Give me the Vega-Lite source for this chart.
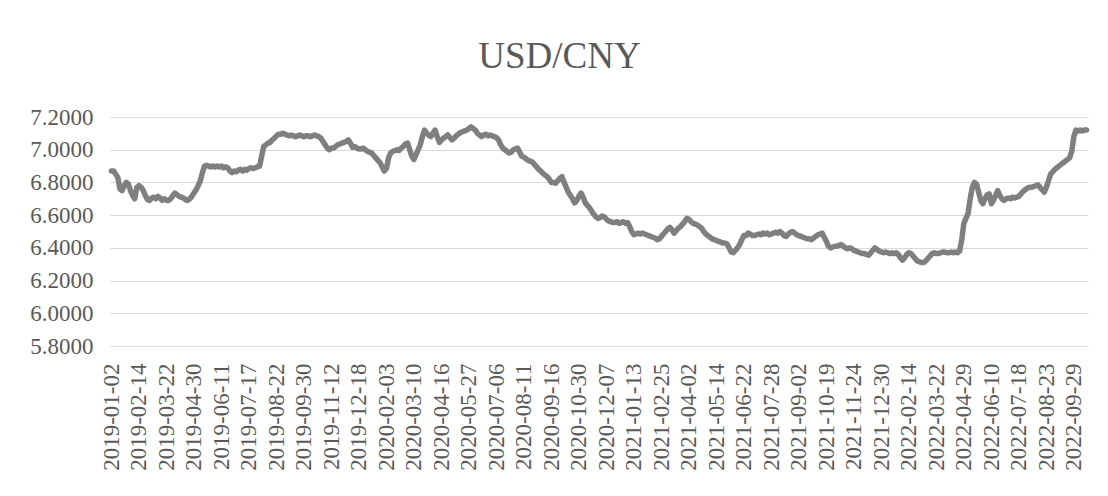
{
"$schema": "https://vega.github.io/schema/vega-lite/v6.json",
"autosize": "none",
"width": 978,
"height": 229,
"padding": {"left": 110, "top": 117, "right": 20, "bottom": 150},
"background": "white",
"title": {"text": "USD/CNY", "font": "Liberation Serif", "fontSize": 37, "fontWeight": "normal", "color": "#595959", "anchor": "middle", "frame": "bounds", "baseline": "alphabetic", "offset": 1},
"config": {"view": {"stroke": null}},
"datasets": {"fx": [
{"d":"2019-01-02","v":6.87},{"d":"2019-01-04","v":6.87},{"d":"2019-01-08","v":6.85},{"d":"2019-01-10","v":6.83},{"d":"2019-01-14","v":6.76},{"d":"2019-01-16","v":6.75},{"d":"2019-01-18","v":6.78},{"d":"2019-01-22","v":6.80},{"d":"2019-01-24","v":6.79},{"d":"2019-01-28","v":6.75},{"d":"2019-01-30","v":6.72},{"d":"2019-02-01","v":6.70},{"d":"2019-02-12","v":6.77},
{"d":"2019-02-14","v":6.78},{"d":"2019-02-18","v":6.77},{"d":"2019-02-20","v":6.75},{"d":"2019-02-22","v":6.72},{"d":"2019-02-26","v":6.695},{"d":"2019-02-28","v":6.69},{"d":"2019-03-04","v":6.705},{"d":"2019-03-06","v":6.71},{"d":"2019-03-08","v":6.70},{"d":"2019-03-12","v":6.715},{"d":"2019-03-14","v":6.705},{"d":"2019-03-18","v":6.69},{"d":"2019-03-20","v":6.70},
{"d":"2019-03-22","v":6.69},{"d":"2019-03-26","v":6.69},{"d":"2019-03-28","v":6.70},{"d":"2019-04-01","v":6.72},{"d":"2019-04-03","v":6.735},{"d":"2019-04-08","v":6.725},{"d":"2019-04-10","v":6.715},{"d":"2019-04-12","v":6.71},{"d":"2019-04-16","v":6.705},{"d":"2019-04-18","v":6.695},{"d":"2019-04-22","v":6.69},{"d":"2019-04-24","v":6.70},{"d":"2019-04-26","v":6.715},
{"d":"2019-04-30","v":6.735},{"d":"2019-05-06","v":6.755},{"d":"2019-05-08","v":6.78},{"d":"2019-05-10","v":6.81},{"d":"2019-05-14","v":6.86},{"d":"2019-05-16","v":6.90},{"d":"2019-05-20","v":6.905},{"d":"2019-05-22","v":6.90},{"d":"2019-05-24","v":6.895},{"d":"2019-05-28","v":6.90},{"d":"2019-05-30","v":6.895},{"d":"2019-06-03","v":6.90},{"d":"2019-06-05","v":6.895},
{"d":"2019-06-11","v":6.90},{"d":"2019-06-13","v":6.89},{"d":"2019-06-17","v":6.895},{"d":"2019-06-19","v":6.89},{"d":"2019-06-21","v":6.87},{"d":"2019-06-25","v":6.86},{"d":"2019-06-27","v":6.87},{"d":"2019-07-01","v":6.865},{"d":"2019-07-03","v":6.875},{"d":"2019-07-05","v":6.88},{"d":"2019-07-09","v":6.87},{"d":"2019-07-11","v":6.88},{"d":"2019-07-15","v":6.875},
{"d":"2019-07-17","v":6.885},{"d":"2019-07-19","v":6.89},{"d":"2019-07-23","v":6.885},{"d":"2019-07-25","v":6.89},{"d":"2019-07-29","v":6.895},{"d":"2019-07-31","v":6.90},{"d":"2019-08-02","v":6.96},{"d":"2019-08-06","v":7.02},{"d":"2019-08-08","v":7.03},{"d":"2019-08-12","v":7.04},{"d":"2019-08-14","v":7.045},{"d":"2019-08-16","v":7.06},{"d":"2019-08-20","v":7.07},
{"d":"2019-08-22","v":7.085},{"d":"2019-08-26","v":7.095},{"d":"2019-08-28","v":7.095},{"d":"2019-08-30","v":7.10},{"d":"2019-09-03","v":7.095},{"d":"2019-09-05","v":7.09},{"d":"2019-09-09","v":7.085},{"d":"2019-09-11","v":7.09},{"d":"2019-09-16","v":7.085},{"d":"2019-09-18","v":7.08},{"d":"2019-09-20","v":7.085},{"d":"2019-09-24","v":7.09},{"d":"2019-09-26","v":7.085},
{"d":"2019-09-30","v":7.08},{"d":"2019-10-09","v":7.085},{"d":"2019-10-11","v":7.085},{"d":"2019-10-15","v":7.08},{"d":"2019-10-17","v":7.085},{"d":"2019-10-21","v":7.09},{"d":"2019-10-23","v":7.085},{"d":"2019-10-25","v":7.08},{"d":"2019-10-29","v":7.07},{"d":"2019-10-31","v":7.05},{"d":"2019-11-04","v":7.03},{"d":"2019-11-06","v":7.01},{"d":"2019-11-08","v":7.00},
{"d":"2019-11-12","v":7.01},{"d":"2019-11-14","v":7.01},{"d":"2019-11-18","v":7.02},{"d":"2019-11-20","v":7.03},{"d":"2019-11-22","v":7.035},{"d":"2019-11-26","v":7.04},{"d":"2019-11-28","v":7.045},{"d":"2019-12-02","v":7.05},{"d":"2019-12-04","v":7.06},{"d":"2019-12-06","v":7.04},{"d":"2019-12-10","v":7.015},{"d":"2019-12-12","v":7.02},{"d":"2019-12-16","v":7.01},
{"d":"2019-12-18","v":7.005},{"d":"2019-12-20","v":7.005},{"d":"2019-12-24","v":7.01},{"d":"2019-12-26","v":7.00},{"d":"2019-12-30","v":6.99},{"d":"2020-01-02","v":6.985},{"d":"2020-01-06","v":6.98},{"d":"2020-01-08","v":6.965},{"d":"2020-01-10","v":6.95},{"d":"2020-01-14","v":6.935},{"d":"2020-01-16","v":6.92},{"d":"2020-01-20","v":6.895},{"d":"2020-01-22","v":6.87},
{"d":"2020-02-03","v":6.885},{"d":"2020-02-05","v":6.95},{"d":"2020-02-07","v":6.98},{"d":"2020-02-11","v":6.99},{"d":"2020-02-13","v":6.995},{"d":"2020-02-17","v":7.00},{"d":"2020-02-19","v":6.995},{"d":"2020-02-21","v":7.01},{"d":"2020-02-25","v":7.02},{"d":"2020-02-27","v":7.035},{"d":"2020-03-02","v":7.04},{"d":"2020-03-04","v":7.00},{"d":"2020-03-06","v":6.96},
{"d":"2020-03-10","v":6.94},{"d":"2020-03-12","v":6.97},{"d":"2020-03-16","v":7.00},{"d":"2020-03-18","v":7.03},{"d":"2020-03-20","v":7.08},{"d":"2020-03-24","v":7.12},{"d":"2020-03-26","v":7.10},{"d":"2020-03-30","v":7.09},{"d":"2020-04-01","v":7.08},{"d":"2020-04-03","v":7.10},{"d":"2020-04-08","v":7.12},{"d":"2020-04-10","v":7.08},{"d":"2020-04-14","v":7.045},
{"d":"2020-04-16","v":7.06},{"d":"2020-04-20","v":7.07},{"d":"2020-04-22","v":7.08},{"d":"2020-04-24","v":7.09},{"d":"2020-04-28","v":7.075},{"d":"2020-04-30","v":7.06},{"d":"2020-05-07","v":7.07},{"d":"2020-05-11","v":7.085},{"d":"2020-05-13","v":7.095},{"d":"2020-05-15","v":7.105},{"d":"2020-05-19","v":7.11},{"d":"2020-05-21","v":7.115},{"d":"2020-05-25","v":7.12},
{"d":"2020-05-27","v":7.13},{"d":"2020-05-29","v":7.14},{"d":"2020-06-02","v":7.13},{"d":"2020-06-04","v":7.12},{"d":"2020-06-08","v":7.10},{"d":"2020-06-10","v":7.09},{"d":"2020-06-12","v":7.08},{"d":"2020-06-16","v":7.09},{"d":"2020-06-18","v":7.095},{"d":"2020-06-22","v":7.085},{"d":"2020-06-24","v":7.09},{"d":"2020-06-29","v":7.085},{"d":"2020-07-01","v":7.08},
{"d":"2020-07-06","v":7.075},{"d":"2020-07-08","v":7.06},{"d":"2020-07-10","v":7.03},{"d":"2020-07-14","v":7.01},{"d":"2020-07-16","v":7.00},{"d":"2020-07-20","v":6.99},{"d":"2020-07-22","v":6.98},{"d":"2020-07-24","v":6.985},{"d":"2020-07-28","v":7.00},{"d":"2020-07-30","v":7.005},{"d":"2020-08-03","v":7.01},{"d":"2020-08-05","v":6.985},{"d":"2020-08-07","v":6.96},
{"d":"2020-08-11","v":6.955},{"d":"2020-08-13","v":6.945},{"d":"2020-08-17","v":6.935},{"d":"2020-08-19","v":6.93},{"d":"2020-08-21","v":6.925},{"d":"2020-08-25","v":6.91},{"d":"2020-08-27","v":6.895},{"d":"2020-08-31","v":6.88},{"d":"2020-09-02","v":6.87},{"d":"2020-09-04","v":6.855},{"d":"2020-09-08","v":6.845},{"d":"2020-09-10","v":6.835},{"d":"2020-09-14","v":6.82},
{"d":"2020-09-16","v":6.80},{"d":"2020-09-18","v":6.80},{"d":"2020-09-22","v":6.795},{"d":"2020-09-24","v":6.81},{"d":"2020-09-28","v":6.825},{"d":"2020-09-30","v":6.835},{"d":"2020-10-12","v":6.80},{"d":"2020-10-14","v":6.77},{"d":"2020-10-16","v":6.74},{"d":"2020-10-20","v":6.72},{"d":"2020-10-22","v":6.70},{"d":"2020-10-26","v":6.675},{"d":"2020-10-28","v":6.69},
{"d":"2020-10-30","v":6.715},{"d":"2020-11-03","v":6.735},{"d":"2020-11-05","v":6.71},{"d":"2020-11-09","v":6.675},{"d":"2020-11-11","v":6.66},{"d":"2020-11-13","v":6.645},{"d":"2020-11-17","v":6.625},{"d":"2020-11-19","v":6.605},{"d":"2020-11-23","v":6.59},{"d":"2020-11-25","v":6.58},{"d":"2020-11-27","v":6.585},{"d":"2020-12-01","v":6.595},{"d":"2020-12-03","v":6.59},
{"d":"2020-12-07","v":6.575},{"d":"2020-12-09","v":6.565},{"d":"2020-12-11","v":6.56},{"d":"2020-12-15","v":6.555},{"d":"2020-12-17","v":6.555},{"d":"2020-12-21","v":6.56},{"d":"2020-12-23","v":6.55},{"d":"2020-12-25","v":6.555},{"d":"2020-12-29","v":6.56},{"d":"2020-12-31","v":6.55},{"d":"2021-01-05","v":6.555},{"d":"2021-01-07","v":6.53},{"d":"2021-01-11","v":6.50},
{"d":"2021-01-13","v":6.48},{"d":"2021-01-15","v":6.485},{"d":"2021-01-19","v":6.49},{"d":"2021-01-21","v":6.485},{"d":"2021-01-25","v":6.49},{"d":"2021-01-27","v":6.485},{"d":"2021-01-29","v":6.48},{"d":"2021-02-02","v":6.475},{"d":"2021-02-04","v":6.47},{"d":"2021-02-08","v":6.465},{"d":"2021-02-10","v":6.46},{"d":"2021-02-19","v":6.45},{"d":"2021-02-23","v":6.455},
{"d":"2021-02-25","v":6.47},{"d":"2021-03-01","v":6.485},{"d":"2021-03-03","v":6.50},{"d":"2021-03-05","v":6.515},{"d":"2021-03-09","v":6.525},{"d":"2021-03-11","v":6.51},{"d":"2021-03-15","v":6.49},{"d":"2021-03-17","v":6.505},{"d":"2021-03-19","v":6.52},{"d":"2021-03-23","v":6.53},{"d":"2021-03-25","v":6.545},{"d":"2021-03-29","v":6.56},{"d":"2021-03-31","v":6.58},
{"d":"2021-04-02","v":6.575},{"d":"2021-04-07","v":6.56},{"d":"2021-04-09","v":6.55},{"d":"2021-04-13","v":6.545},{"d":"2021-04-15","v":6.54},{"d":"2021-04-19","v":6.53},{"d":"2021-04-21","v":6.52},{"d":"2021-04-23","v":6.50},{"d":"2021-04-27","v":6.485},{"d":"2021-04-29","v":6.475},{"d":"2021-05-07","v":6.465},{"d":"2021-05-10","v":6.455},{"d":"2021-05-12","v":6.45},
{"d":"2021-05-14","v":6.445},{"d":"2021-05-18","v":6.44},{"d":"2021-05-20","v":6.435},{"d":"2021-05-24","v":6.43},{"d":"2021-05-26","v":6.43},{"d":"2021-05-28","v":6.425},{"d":"2021-06-01","v":6.40},{"d":"2021-06-03","v":6.375},{"d":"2021-06-07","v":6.37},{"d":"2021-06-09","v":6.385},{"d":"2021-06-11","v":6.40},{"d":"2021-06-16","v":6.42},{"d":"2021-06-18","v":6.45},
{"d":"2021-06-22","v":6.475},{"d":"2021-06-24","v":6.475},{"d":"2021-06-28","v":6.49},{"d":"2021-06-30","v":6.485},{"d":"2021-07-02","v":6.475},{"d":"2021-07-06","v":6.475},{"d":"2021-07-08","v":6.48},{"d":"2021-07-12","v":6.485},{"d":"2021-07-14","v":6.48},{"d":"2021-07-16","v":6.49},{"d":"2021-07-20","v":6.485},{"d":"2021-07-22","v":6.49},{"d":"2021-07-26","v":6.48},
{"d":"2021-07-28","v":6.485},{"d":"2021-07-30","v":6.49},{"d":"2021-08-03","v":6.495},{"d":"2021-08-05","v":6.49},{"d":"2021-08-09","v":6.50},{"d":"2021-08-11","v":6.49},{"d":"2021-08-13","v":6.475},{"d":"2021-08-17","v":6.47},{"d":"2021-08-19","v":6.485},{"d":"2021-08-23","v":6.495},{"d":"2021-08-25","v":6.50},{"d":"2021-08-27","v":6.49},{"d":"2021-08-31","v":6.48},
{"d":"2021-09-02","v":6.475},{"d":"2021-09-06","v":6.47},{"d":"2021-09-08","v":6.465},{"d":"2021-09-10","v":6.46},{"d":"2021-09-14","v":6.455},{"d":"2021-09-16","v":6.455},{"d":"2021-09-22","v":6.45},{"d":"2021-09-24","v":6.46},{"d":"2021-09-28","v":6.47},{"d":"2021-09-30","v":6.48},{"d":"2021-10-11","v":6.485},{"d":"2021-10-13","v":6.49},{"d":"2021-10-15","v":6.465},
{"d":"2021-10-19","v":6.44},{"d":"2021-10-21","v":6.41},{"d":"2021-10-25","v":6.40},{"d":"2021-10-27","v":6.405},{"d":"2021-10-29","v":6.41},{"d":"2021-11-02","v":6.41},{"d":"2021-11-04","v":6.415},{"d":"2021-11-08","v":6.42},{"d":"2021-11-10","v":6.41},{"d":"2021-11-12","v":6.40},{"d":"2021-11-16","v":6.395},{"d":"2021-11-18","v":6.40},{"d":"2021-11-22","v":6.395},
{"d":"2021-11-24","v":6.385},{"d":"2021-11-26","v":6.38},{"d":"2021-11-30","v":6.375},{"d":"2021-12-02","v":6.37},{"d":"2021-12-06","v":6.365},{"d":"2021-12-08","v":6.365},{"d":"2021-12-10","v":6.36},{"d":"2021-12-14","v":6.355},{"d":"2021-12-16","v":6.37},{"d":"2021-12-20","v":6.385},{"d":"2021-12-22","v":6.40},{"d":"2021-12-24","v":6.39},{"d":"2021-12-28","v":6.38},
{"d":"2021-12-30","v":6.375},{"d":"2022-01-04","v":6.37},{"d":"2022-01-06","v":6.375},{"d":"2022-01-10","v":6.37},{"d":"2022-01-12","v":6.365},{"d":"2022-01-14","v":6.37},{"d":"2022-01-18","v":6.365},{"d":"2022-01-20","v":6.37},{"d":"2022-01-24","v":6.36},{"d":"2022-01-26","v":6.34},{"d":"2022-01-28","v":6.325},{"d":"2022-02-08","v":6.34},{"d":"2022-02-10","v":6.36},
{"d":"2022-02-14","v":6.37},{"d":"2022-02-16","v":6.365},{"d":"2022-02-18","v":6.35},{"d":"2022-02-22","v":6.335},{"d":"2022-02-24","v":6.32},{"d":"2022-02-28","v":6.315},{"d":"2022-03-02","v":6.31},{"d":"2022-03-04","v":6.31},{"d":"2022-03-08","v":6.32},{"d":"2022-03-10","v":6.335},{"d":"2022-03-14","v":6.35},{"d":"2022-03-16","v":6.365},{"d":"2022-03-18","v":6.37},
{"d":"2022-03-22","v":6.365},{"d":"2022-03-24","v":6.365},{"d":"2022-03-28","v":6.37},{"d":"2022-03-30","v":6.375},{"d":"2022-04-01","v":6.375},{"d":"2022-04-07","v":6.37},{"d":"2022-04-11","v":6.37},{"d":"2022-04-13","v":6.375},{"d":"2022-04-15","v":6.37},{"d":"2022-04-19","v":6.375},{"d":"2022-04-21","v":6.37},{"d":"2022-04-25","v":6.38},{"d":"2022-04-27","v":6.45},
{"d":"2022-04-29","v":6.55},{"d":"2022-05-06","v":6.58},{"d":"2022-05-10","v":6.61},{"d":"2022-05-12","v":6.70},{"d":"2022-05-16","v":6.77},{"d":"2022-05-18","v":6.80},{"d":"2022-05-20","v":6.79},{"d":"2022-05-24","v":6.74},{"d":"2022-05-26","v":6.69},{"d":"2022-05-30","v":6.67},{"d":"2022-06-01","v":6.70},{"d":"2022-06-06","v":6.725},{"d":"2022-06-08","v":6.73},
{"d":"2022-06-10","v":6.67},{"d":"2022-06-14","v":6.69},{"d":"2022-06-16","v":6.72},{"d":"2022-06-20","v":6.75},{"d":"2022-06-22","v":6.72},{"d":"2022-06-24","v":6.70},{"d":"2022-06-28","v":6.69},{"d":"2022-06-30","v":6.70},{"d":"2022-07-04","v":6.705},{"d":"2022-07-06","v":6.70},{"d":"2022-07-08","v":6.71},{"d":"2022-07-12","v":6.705},{"d":"2022-07-14","v":6.71},
{"d":"2022-07-18","v":6.715},{"d":"2022-07-20","v":6.73},{"d":"2022-07-22","v":6.745},{"d":"2022-07-26","v":6.755},{"d":"2022-07-28","v":6.765},{"d":"2022-08-01","v":6.77},{"d":"2022-08-03","v":6.77},{"d":"2022-08-05","v":6.775},{"d":"2022-08-09","v":6.78},{"d":"2022-08-11","v":6.785},{"d":"2022-08-15","v":6.77},{"d":"2022-08-17","v":6.755},{"d":"2022-08-19","v":6.74},
{"d":"2022-08-23","v":6.77},{"d":"2022-08-25","v":6.81},{"d":"2022-08-29","v":6.85},{"d":"2022-08-31","v":6.865},{"d":"2022-09-02","v":6.88},{"d":"2022-09-06","v":6.89},{"d":"2022-09-08","v":6.90},{"d":"2022-09-13","v":6.91},{"d":"2022-09-15","v":6.92},{"d":"2022-09-19","v":6.93},{"d":"2022-09-21","v":6.94},{"d":"2022-09-23","v":6.95},{"d":"2022-09-27","v":6.99},
{"d":"2022-09-29","v":7.08},{"d":"2022-10-10","v":7.12},{"d":"2022-10-12","v":7.115},{"d":"2022-10-14","v":7.12},{"d":"2022-10-18","v":7.115},{"d":"2022-10-20","v":7.12},{"d":"2022-10-24","v":7.12}
]},
"data": {"name": "fx"},
"mark": {"type": "line", "color": "#7f7f7f", "strokeWidth": 5.5, "strokeJoin": "round", "strokeCap": "round"},
"encoding": {
"x": {"field": "d", "type": "ordinal", "scale": {"type": "point", "padding": 0.7},
"axis": {"title": null, "values": ["2019-01-02","2019-02-14","2019-03-22","2019-04-30","2019-06-11","2019-07-17","2019-08-22","2019-09-30","2019-11-12","2019-12-18","2020-02-03","2020-03-10","2020-04-16","2020-05-27","2020-07-06","2020-08-11","2020-09-16","2020-10-30","2020-12-07","2021-01-13","2021-02-25","2021-04-02","2021-05-14","2021-06-22","2021-07-28","2021-09-02","2021-10-19","2021-11-24","2021-12-30","2022-02-14","2022-03-22","2022-04-29","2022-06-10","2022-07-18","2022-08-23","2022-09-29"],
"labelAngle": -90, "labelOverlap": false, "labelFont": "Liberation Serif", "labelFontSize": 23, "labelColor": "#595959", "labelPadding": 17, "domain": false, "ticks": false, "grid": false}},
"y": {"field": "v", "type": "quantitative", "scale": {"domain": [5.8, 7.2], "nice": false, "zero": false},
"axis": {"title": null, "values": [5.8, 6.0, 6.2, 6.4, 6.6, 6.8, 7.0, 7.2], "format": ".4f", "labelFont": "Liberation Serif", "labelFontSize": 23, "labelColor": "#595959", "labelPadding": 17, "domain": false, "ticks": false, "grid": true, "gridColor": "#d9d9d9", "gridWidth": 1}}
}
}
